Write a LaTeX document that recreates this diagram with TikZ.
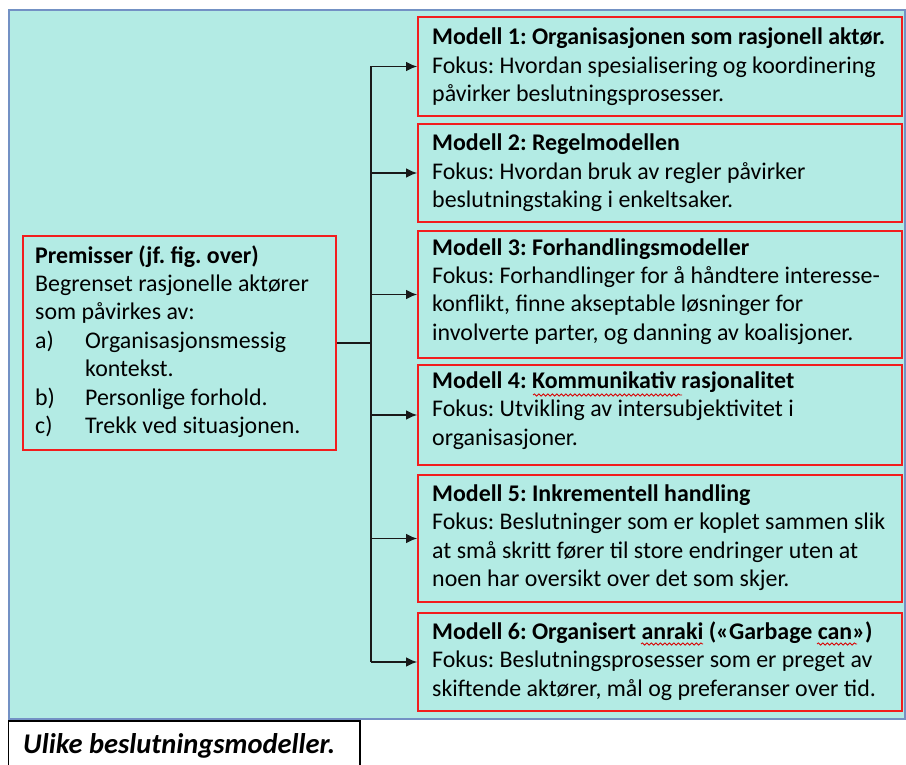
\documentclass[tikz,border=0pt]{standalone}
\usepackage{fontspec}
\setmainfont{Carlito}
\usetikzlibrary{arrows.meta,decorations.pathmorphing}
\definecolor{bgteal}{HTML}{B3EBE4}
\definecolor{boxred}{HTML}{F21D1D}
\definecolor{frameblue}{HTML}{7391C4}
\tikzset{
  modelbox/.style={draw=boxred, line width=1.6pt, fill=bgteal, rectangle, inner sep=0pt},
  txt/.style={anchor=base west, inner sep=0pt, font=\fontsize{23.9}{28.5}\selectfont},
  link/.style={line width=1.7pt, draw=black!90},
  tip/.style={link, -{Latex[length=11pt,width=9.5pt]}},
  spell/.style={draw=red!85!black, line width=0.8pt, decorate,
    decoration={snake, amplitude=1.1pt, segment length=4.5pt}}
}
\begin{document}
\frenchspacing
\begin{tikzpicture}[x=1pt,y=-1pt]
\useasboundingbox (0,0) rectangle (906,765);
% panel
\fill[white] (0,0) rectangle (906,765);
\draw[frameblue, line width=1.3pt, fill=bgteal] (9,10) rectangle (905,719);

% premises box
\node[modelbox, minimum width=313pt, minimum height=214pt] (prem) at (179.5,343) {};
\node[txt] (premtxt) at (35,263) {\vtop{%
  \hbox{\bfseries Premisser (jf. fig. over)}
  \hbox{Begrenset rasjonelle aktører}
  \hbox{som påvirkes av:}
  \hbox{\makebox[50pt][l]{a)}Organisasjonsmessig}
  \hbox{\hskip50pt kontekst.}
  \hbox{\makebox[50pt][l]{b)}Personlige forhold.}
  \hbox{\makebox[50pt][l]{c)}Trekk ved situasjonen.}}};

% model boxes
\node[modelbox, minimum width=484pt, minimum height=99pt]  (m1) at (660,66.5) {};
\node[modelbox, minimum width=484pt, minimum height=98pt]  (m2) at (660,173) {};
\node[modelbox, minimum width=484pt, minimum height=127pt] (m3) at (660,294.5) {};
\node[modelbox, minimum width=484pt, minimum height=100pt] (m4) at (660,415) {};
\node[modelbox, minimum width=484pt, minimum height=127pt] (m5) at (660,538.5) {};
\node[modelbox, minimum width=484pt, minimum height=98pt]  (m6) at (660,662) {};

\node[txt] (t1) at (432,45) {\vtop{%
  \hbox{\bfseries Modell 1: Organisasjonen som rasjonell aktør.}
  \hbox{Fokus: Hvordan spesialisering og koordinering}
  \hbox{påvirker beslutningsprosesser.}}};
\node[txt] (t2) at (432,151) {\vtop{%
  \hbox{\bfseries Modell 2: Regelmodellen}
  \hbox{Fokus: Hvordan bruk av regler påvirker}
  \hbox{beslutningstaking i enkeltsaker.}}};
\node[txt] (t3) at (432,255) {\vtop{%
  \hbox{\bfseries Modell 3: Forhandlingsmodeller}
  \hbox{Fokus: Forhandlinger for å håndtere interesse-}
  \hbox{konflikt, finne akseptable løsninger for}
  \hbox{involverte parter, og danning av koalisjoner.}}};
\node[txt] (t4) at (432,388) {\vtop{%
  \hbox{\bfseries Modell 4: Kommunikativ rasjonalitet}
  \hbox{Fokus: Utvikling av intersubjektivitet i}
  \hbox{organisasjoner.}}};
\node[txt] (t5) at (432,501) {\vtop{%
  \hbox{\bfseries Modell 5: Inkrementell handling}
  \hbox{Fokus: Beslutninger som er koplet sammen slik}
  \hbox{at små skritt fører til store endringer uten at}
  \hbox{noen har oversikt over det som skjer.}}};
\node[txt] (t6) at (432,639) {\vtop{%
  \hbox{\bfseries Modell 6: Organisert anraki («Garbage can»)}
  \hbox{Fokus: Beslutningsprosesser som er preget av}
  \hbox{skiftende aktører, mål og preferanser over tid.}}};

% spell-check squiggles
\draw[spell] (533,395) -- (682,395);
\draw[spell] (641,644) -- (703,644);
\draw[spell] (817,644) -- (857,644);

% connectors
\coordinate (trunk) at (371,343);
\draw[link] (prem.east) -- (trunk);
\draw[link] (trunk |- m1.west) -- (trunk |- m6.west);
\foreach \m in {m1,m2,m3,m4,m5,m6}
  \draw[tip] (trunk |- \m.west) -- (\m.west);

% caption
\draw[black, line width=1.3pt, fill=white] (8.5,770) -- (8.5,721) -- (360,721) -- (360,770);
\node[anchor=base west, inner sep=0pt, font=\fontsize{28.5}{32}\selectfont\bfseries\itshape] (cap) at (23,753) {Ulike beslutningsmodeller.};
\end{tikzpicture}
\end{document}
